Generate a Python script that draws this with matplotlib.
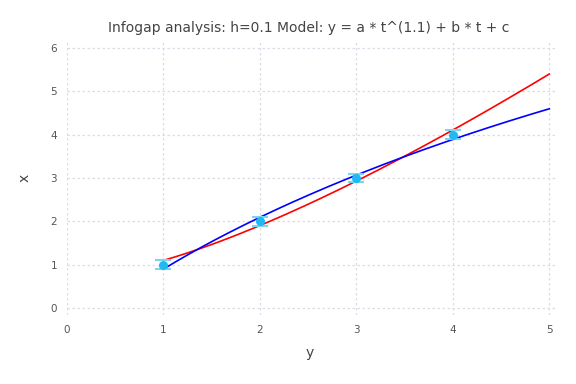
import numpy as np
import matplotlib
matplotlib.use("Agg")
import matplotlib.pyplot as plt

# Data
obs_t = [1, 2, 3, 4]
obs_x = [1, 2, 3, 4]
h = 0.1
# model parameters y = a*t^1.1 + b*t + c (upper/lower infogap fits)
red_params = (3.616, -3.33, 0.814)
blue_params = (-3.616, 5.33, -0.814)
t_range = (1, 5)
xticks = [0, 1, 2, 3, 4, 5]
yticks = [0, 1, 2, 3, 4, 5, 6]

plt.rcParams['font.family'] = ['DejaVu Sans']

fig = plt.figure(figsize=(5.76, 3.84), dpi=100)
ax = fig.add_axes([67/576, 1-315/384, (557-67)/576, (315-42)/384])

t = np.linspace(t_range[0], t_range[1], 200)
def model(p, t):
    a, b, c = p
    return a * t**1.1 + b * t + c

ax.plot(t, model(red_params, t), color='red', lw=1.2, zorder=3)
ax.plot(t, model(blue_params, t), color='blue', lw=1.2, zorder=3)
ax.errorbar(obs_t, obs_x, yerr=h, fmt='o', color='#1fbaf2', ms=5.5,
            ecolor='#7fd3f2', elinewidth=1.5, capsize=6, capthick=1.5, zorder=4)

ax.set_xlim(0, 5.08)
ax.set_ylim(-0.16, 6.14)
ax.set_xticks(xticks)
ax.set_yticks(yticks)
for s in ax.spines.values():
    s.set_visible(False)
ax.grid(True, color='#dcdce6', linestyle=(0, (2, 2)), lw=0.9)
ax.set_axisbelow(True)
ax.tick_params(length=0, colors='#555555', labelsize=7.5, pad=7)
ax.set_xlabel('y', fontsize=10, color='#444444')
ax.set_ylabel('x', fontsize=10, color='#444444', rotation=90)
ax.xaxis.set_label_coords((310-67)/490, (315-353)/273)
ax.yaxis.set_label_coords((25-67)/490, (315-178)/273)
ax.xaxis.label.set_va('center')
ax.yaxis.label.set_va('center')
fig.text(309/576, 1-28/384, 'Infogap analysis: h=0.1 Model: y = a * t^(1.1) + b * t + c',
         ha='center', va='center', fontsize=10, color='#444444')

fig.savefig('out.png', dpi=100)
